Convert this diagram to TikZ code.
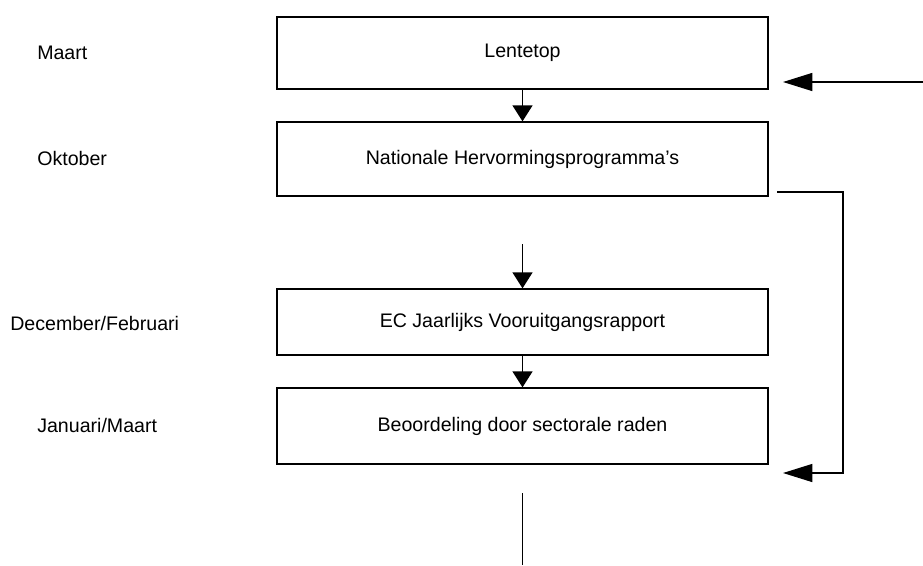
\documentclass[tikz,border=0pt]{standalone}
\usepackage{fontspec}
\setmainfont{Liberation Sans}
\usetikzlibrary{arrows.meta}
\begin{document}
\begin{tikzpicture}[x=0.75pt,y=-0.75pt,
  box/.style={draw,line width=1pt,minimum width=491*0.75pt,inner sep=0pt,font=\fontsize{14.7}{16}\selectfont},
  lbl/.style={anchor=west,inner sep=0pt,font=\fontsize{14.7}{16}\selectfont},
  conn/.style={line width=1pt},
  down/.style={conn,-{Triangle[length=12pt,width=15pt]}},
  side/.style={conn,-{Triangle[length=22pt,width=13.5pt]}}]
\useasboundingbox (0,0) rectangle (923,565);
\node[box,minimum height=72*0.75pt] (b1) at (522.5,53) {Lentetop};
\node[box,minimum height=74*0.75pt] (b2) at (522.5,159) {Nationale Hervormingsprogramma's};
\node[box,minimum height=66*0.75pt] (b3) at (522.5,322) {EC Jaarlijks Vooruitgangsrapport};
\node[box,minimum height=76*0.75pt] (b4) at (522.5,426) {Beoordeling door sectorale raden};
\node[lbl] (l1) at (37,53) {Maart};
\node[lbl] (l2) at (37,158) {Oktober};
\node[lbl] (l3) at (10,323) {December/Februari};
\node[lbl] (l4) at (37,425) {Januari/Maart};
\coordinate (a2s) at (522.5,244);
\coordinate (ends) at (522.5,493);
\coordinate (ende) at (522.5,565);
\coordinate (r1s) at (923,82);
\coordinate (r1e) at (783,82);
\coordinate (r2s) at (777,192);
\coordinate (r2a) at (843,192);
\coordinate (r2b) at (843,473);
\coordinate (r2e) at (783,473);
\draw[down] (b1) -- (b2);
\draw[down] (a2s) -- (b3);
\draw[down] (b3) -- (b4);
\draw[conn] (ends) -- (ende);
\draw[side] (r1s) -- (r1e);
\draw[side] (r2s) -- (r2a) -- (r2b) -- (r2e);
\end{tikzpicture}
\end{document}
